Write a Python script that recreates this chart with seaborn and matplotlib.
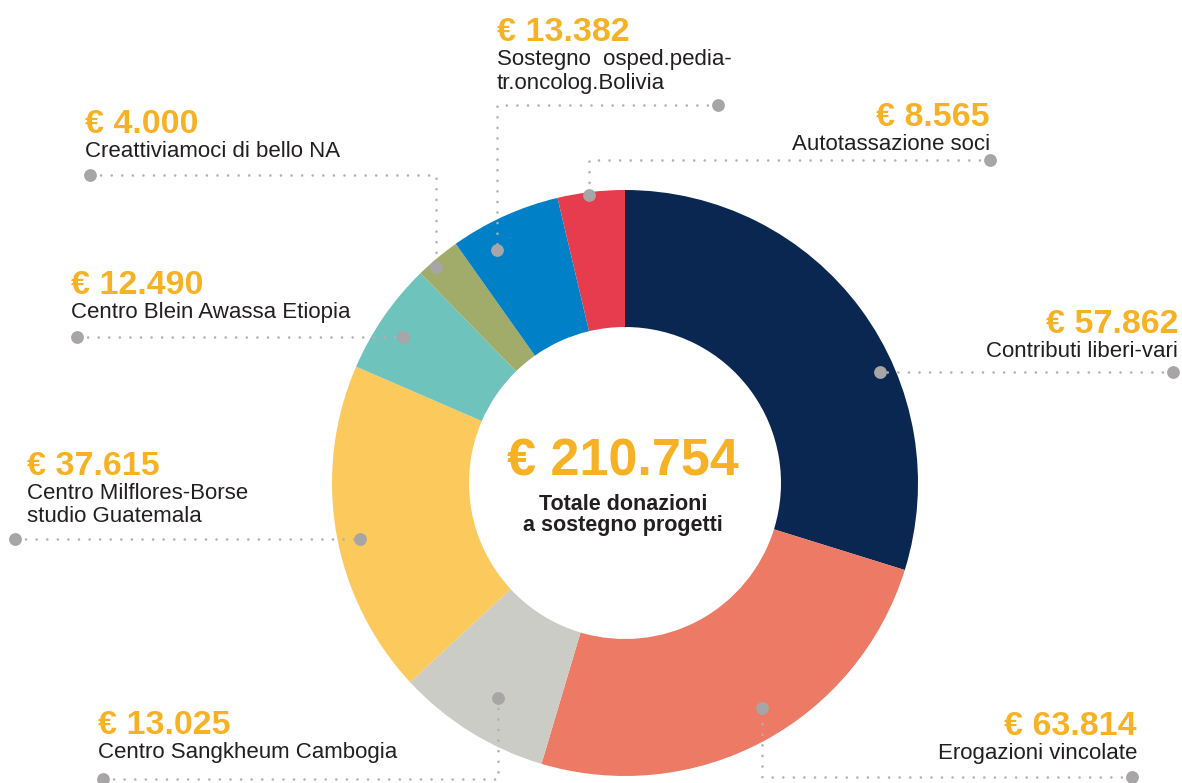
import matplotlib.pyplot as plt
import seaborn as sns

W, H = 1182, 783

# ring order: clockwise from 12 o'clock
projects = [
    "Contributi liberi-vari",
    "Erogazioni vincolate",
    "Centro Sangkheum Cambogia",
    "Centro Milflores-Borse\nstudio Guatemala",
    "Centro Blein Awassa Etiopia",
    "Creattiviamoci di bello NA",
    "Sostegno  osped.pedia-\ntr.oncolog.Bolivia",
    "Autotassazione soci",
]
amounts = [57862, 63814, 13025, 37615, 12490, 4000, 13382, 8565]
# share of the ring each slice takes in the original drawing (%)
ring_share = [29.8, 24.8, 8.5, 18.4, 6.2, 2.5, 6.1, 3.7]
total = 210754
center_caption = ["Totale donazioni", "a sostegno progetti"]

slice_colors = ["#0a2752", "#ec7a64", "#cbccc6", "#fbc95c",
                "#6ec3bc", "#a1ac6a", "#0080c6", "#e63c4e"]

# label anchor (x, amount baseline, alignment) and leader path, in pixels
label_pos = [
    (1178, 333, "right"),
    (1137, 735, "right"),
    (98, 734, "left"),
    (27, 475, "left"),
    (71, 294, "left"),
    (85, 133, "left"),
    (497, 41, "left"),
    (990, 126, "right"),
]
leaders = [
    [(1173, 372), (880, 372)],
    [(1132, 777), (762, 777), (762, 708)],
    [(103, 779), (498, 779), (498, 698)],
    [(15, 539), (360, 539)],
    [(77, 337), (403, 337)],
    [(90, 175), (436, 175), (436, 267)],
    [(718, 105), (497, 105), (497, 250)],
    [(990, 160), (589, 160), (589, 195)],
]

CX, CY, R_OUT, R_IN = 625, 483, 293, 156
ORANGE = "#f6b224"
DARK = "#231f20"
GREY = "#a8a5a6"


def euro(v):
    return "€ " + f"{v:,}".replace(",", ".")


sns.set_theme(style="white")
plt.rcParams["font.family"] = ["Liberation Sans", "DejaVu Sans"]

fig = plt.figure(figsize=(W / 100, H / 100), dpi=100)
ax = fig.add_axes([0, 0, 1, 1])

# y axis is flipped below, so counterclock=True turns clockwise on screen
ax.pie(ring_share, colors=sns.color_palette(slice_colors), startangle=-90,
       counterclock=True, radius=R_OUT, center=(CX, CY),
       wedgeprops=dict(width=R_OUT - R_IN, linewidth=0))

ax.set_xlim(0, W)
ax.set_ylim(H, 0)
ax.set_aspect("equal")
ax.axis("off")

for name, amt, (x, y, ha), path in zip(projects, amounts, label_pos, leaders):
    ax.text(x, y, euro(amt), ha=ha, va="baseline", fontsize=24.5,
            fontweight="bold", color=ORANGE)
    for i, line in enumerate(name.split("\n")):
        ax.text(x, y + 24 + 23.5 * i, line, ha=ha, va="baseline",
                fontsize=16, color=DARK)
    xs = [p[0] for p in path]
    ys = [p[1] for p in path]
    ax.plot(xs, ys, color="#b2b0b1", lw=1.9, linestyle=(0, (0.01, 4.0)),
            dash_capstyle="round", zorder=4)
    ax.scatter([xs[0], xs[-1]], [ys[0], ys[-1]], s=85, color=GREY,
               linewidths=0, zorder=5)

ax.text(623, 475, euro(total), ha="center", va="baseline", fontsize=37.5,
        fontweight="bold", color=ORANGE)
for i, line in enumerate(center_caption):
    ax.text(623, 510 + 21 * i, line, ha="center", va="baseline",
            fontsize=15.5, fontweight="bold", color=DARK)

fig.savefig("out.png", dpi=100)
